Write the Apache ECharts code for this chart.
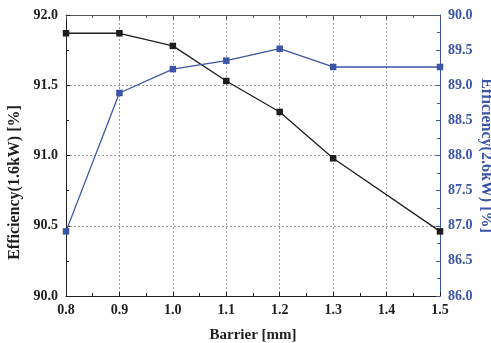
<!DOCTYPE html>
<html><head><meta charset="utf-8">
<script src="https://cdn.jsdelivr.net/npm/echarts@6/dist/echarts.min.js"></script>
<style>html,body{margin:0;padding:0;background:#fff}#c{width:491px;height:343px}</style>
</head><body><div id="c"></div>
<script>
const barrier = [0.8, 0.9, 1.0, 1.1, 1.2, 1.3, 1.5];
const eff16 = [91.87, 91.87, 91.78, 91.53, 91.31, 90.98, 90.46];
const eff26 = [86.92, 88.89, 89.23, 89.35, 89.52, 89.26, 89.26];
const xName = 'Barrier [mm]';
const yLeftName = 'Efficiency(1.6kW) [%]';
const yRightName = 'Efficiency(2.6kW) [%]';

const BLACK = '#1e1e1e', BLUE = '#3b55a6';
const FONT = '"Liberation Serif", "Times New Roman", serif';
const chart = echarts.init(document.getElementById('c'), null, {renderer: 'canvas'});
const grid = {left: 66, right: 51, top: 15, bottom: 47, outerBoundsMode: 'none', containLabel: false};
const labelStyle = c => ({color: c, fontFamily: FONT, fontWeight: 'bold', fontSize: 14});
chart.setOption({
  animation: false,
  grid: grid,
  xAxis: [{
    type: 'value', min: 0.8, max: 1.5, interval: 0.1, position: 'bottom',
    name: xName, nameLocation: 'middle', nameGap: 32, nameMoveOverlap: false,
    nameTextStyle: {color: BLACK, fontFamily: FONT, fontWeight: 'bold', fontSize: 15},
    axisLine: {show: true, lineStyle: {color: BLACK, width: 1}},
    axisTick: {show: true, inside: true, length: 4, lineStyle: {color: BLACK}},
    minorTick: {show: true, splitNumber: 2, length: 3, lineStyle: {color: BLACK}},
    axisLabel: Object.assign(labelStyle(BLACK), {margin: 7, formatter: v => v.toFixed(1)}),
    splitLine: {show: true, lineStyle: {color: '#9a9a9a', type: [2, 2], width: 1}}
  }, {
    type: 'value', min: 0.8, max: 1.5, interval: 0.1, position: 'top',
    axisLine: {show: true, lineStyle: {color: '#555', width: 1}},
    axisTick: {show: true, inside: true, length: 4, lineStyle: {color: '#555'}},
    minorTick: {show: true, splitNumber: 2, length: 3, lineStyle: {color: '#555'}},
    axisLabel: {show: false}, splitLine: {show: false}
  }],
  yAxis: [{
    type: 'value', min: 90, max: 92, interval: 0.5, position: 'left',
    name: yLeftName, nameLocation: 'middle', nameGap: 43, nameRotate: 90, nameMoveOverlap: false,
    nameTextStyle: {color: BLACK, fontFamily: FONT, fontWeight: 'bold', fontSize: 16, padding: [0, 54, 0, 0]},
    axisLine: {show: true, lineStyle: {color: BLACK, width: 1}},
    axisTick: {show: true, inside: true, length: 4, lineStyle: {color: BLACK}},
    minorTick: {show: true, splitNumber: 2, length: 3, lineStyle: {color: BLACK}},
    axisLabel: Object.assign(labelStyle(BLACK), {margin: 8, formatter: v => v.toFixed(1)}),
    splitLine: {show: true, lineStyle: {color: '#9a9a9a', type: [2, 2], width: 1}}
  }, {
    type: 'value', min: 86, max: 90, interval: 0.5, position: 'right',
    name: yRightName, nameLocation: 'middle', nameGap: 38, nameRotate: -90, nameMoveOverlap: false,
    nameTextStyle: {color: BLUE, fontFamily: FONT, fontWeight: 'bold', fontSize: 16},
    axisLine: {show: true, lineStyle: {color: BLUE, width: 1}},
    axisTick: {show: true, inside: true, length: 4, lineStyle: {color: BLUE}},
    minorTick: {show: true, splitNumber: 2, length: 3, lineStyle: {color: BLUE}},
    axisLabel: Object.assign(labelStyle(BLUE), {margin: 8, formatter: v => v.toFixed(1)}),
    splitLine: {show: false}
  }],
  series: [{
    type: 'line', xAxisIndex: 0, yAxisIndex: 0,
    data: barrier.map((x, i) => [x, eff16[i]]),
    symbol: 'rect', symbolSize: 6.5,
    lineStyle: {color: BLACK, width: 1.3},
    itemStyle: {color: BLACK},
    clip: true
  }, {
    type: 'line', xAxisIndex: 0, yAxisIndex: 1,
    data: barrier.map((x, i) => [x, eff26[i]]),
    symbol: 'rect', symbolSize: 6.5,
    lineStyle: {color: BLUE, width: 1.3},
    itemStyle: {color: BLUE},
    clip: true
  }]
});
</script></body></html>
